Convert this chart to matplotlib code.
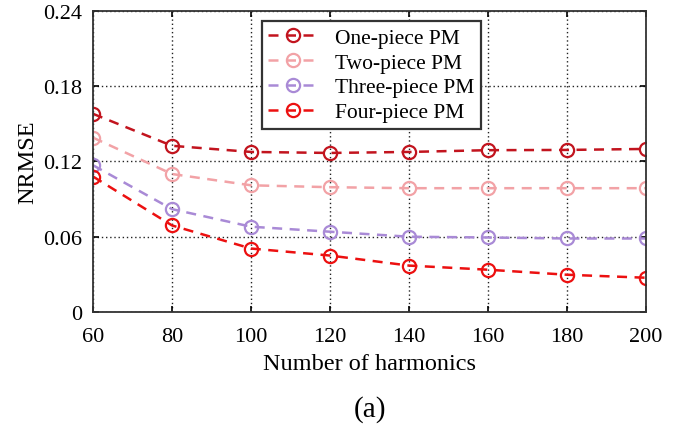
import numpy as np
import matplotlib.pyplot as plt

plt.rcParams['font.family'] = ['Liberation Serif', 'DejaVu Serif']

# Data
harmonics = [60, 80, 100, 120, 140, 160, 180, 200]
one_piece = [0.158, 0.1325, 0.1276, 0.1268, 0.1276, 0.1290, 0.1292, 0.1300]
two_piece = [0.139, 0.110, 0.101, 0.0995, 0.0987, 0.0987, 0.0987, 0.0987]
three_piece = [0.117, 0.082, 0.068, 0.064, 0.060, 0.0594, 0.0586, 0.0586]
four_piece = [0.108, 0.069, 0.0506, 0.045, 0.037, 0.0337, 0.0297, 0.0273]

series = [
    ("One-piece PM", one_piece, '#c2141e'),
    ("Two-piece PM", two_piece, '#f2a2a6'),
    ("Three-piece PM", three_piece, '#a98ad6'),
    ("Four-piece PM", four_piece, '#ec1010'),
]

fig = plt.figure(figsize=(6.79, 4.27), dpi=100)
ax = fig.add_axes([0.137, 0.267, 0.8144, 0.705])

for label, vals, color in series:
    ax.plot(harmonics, vals, linestyle=(0, (4, 3)), color=color, linewidth=1.8,
            marker='o', markersize=9.5, markerfacecolor='none',
            markeredgewidth=1.6, label=label)

ax.set_xlim(60, 200)
ax.set_ylim(0, 0.24)
ax.set_xticks(harmonics)
ax.set_yticks([0, 0.06, 0.12, 0.18, 0.24])
ax.set_yticklabels(['0', '0.06', '0.12', '0.18', '0.24'])
ax.tick_params(labelsize=16, direction='in', length=4, width=1.2,
               top=True, right=True)
ax.tick_params(axis='x', pad=11)
ax.tick_params(axis='y', pad=8)
ax.grid(True, linestyle=(0, (1, 2)), color='#222222', linewidth=1)
for s in ax.spines.values():
    s.set_linewidth(1.3)
    s.set_color('#333333')

ax.set_xlabel("Number of harmonics", fontsize=17.5, labelpad=5)
ax.set_ylabel("NRMSE", fontsize=17.5, labelpad=3)

leg = ax.legend(loc='upper left', bbox_to_anchor=(0.3056, 0.966), fontsize=15.5,
                frameon=True, fancybox=False, edgecolor='#333333', framealpha=1,
                borderaxespad=0, handlelength=2.3, handletextpad=0.8,
                borderpad=0.3, labelspacing=0.22)
leg.get_frame().set_linewidth(1.6)

fig.text(0.545, 0.04, "(a)", ha='center', va='center', fontsize=21)

fig.savefig("out.png", dpi=100, facecolor='white')
